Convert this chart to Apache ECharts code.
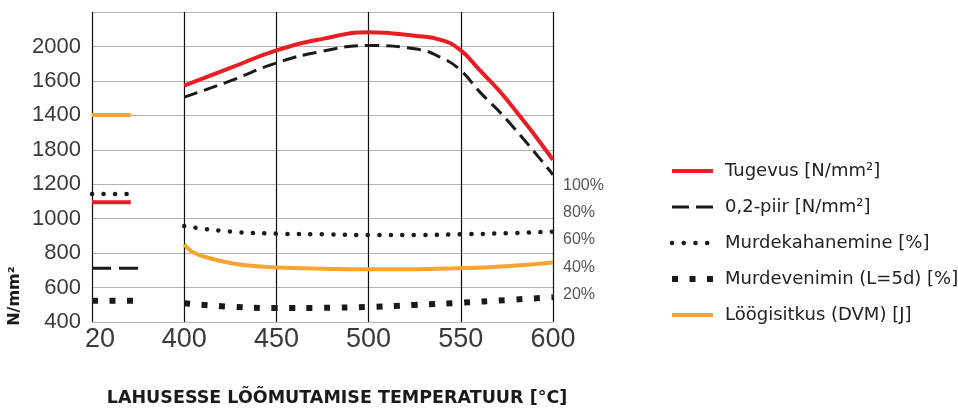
<!DOCTYPE html>
<html>
<head>
<meta charset="utf-8">
<script src="https://cdn.jsdelivr.net/npm/echarts@6/dist/echarts.min.js"></script>
<style>
html,body{margin:0;padding:0;background:#fff;}
#chart{width:958px;height:408px;}
</style>
</head>
<body>
<div id="chart"></div>
<script>
// ---- data ----
const xTickValues = [20, 400, 450, 500, 550, 600];
const yTickLabels = ['400', '600', '800', '1000', '1200', '1800', '1400', '1600', '2000', ''];
const pctTickLabels = ['20%', '40%', '60%', '80%', '100%'];
const seriesNames = ['Tugevus [N/mm²]', '0,2-piir [N/mm²]', 'Murdekahanemine [%]', 'Murdevenimin (L=5d) [%]', 'Löögisitkus (DVM) [J]'];

const curveTemps = [400, 425, 450, 475, 500, 525, 540, 550, 560, 575, 600];
const tugevus = [1772, 1875, 1977, 2044, 2082, 2062, 2035, 1977, 1865, 1691, 1342];
const piir02 = [1706, 1800, 1904, 1972, 2005, 1986, 1932, 1860, 1739, 1574, 1255];

const loogTemps = [400, 405, 414, 423, 432, 450, 475, 500, 525, 550, 575, 600];
const loogisitkus = [852, 803, 770, 747, 731, 716, 709, 706, 707, 712, 724, 745];

const pctTemps = [400, 425, 450, 475, 500, 525, 550, 575, 600];
const murdekahanemine = [70.3, 66.2, 64.7, 64.2, 63.7, 63.7, 64.2, 65.0, 66.2];
const murdevenimin = [13.7, 11.2, 10.2, 10.4, 11.0, 12.5, 14.1, 16.1, 18.1];

// values at 20 °C (drawn as short stubs)
const tugevus20 = 1096;
const piir20 = 712;
const loogisitkus20 = 1602;
const murdekahanemine20 = 93.8;
const murdevenimin20 = 15.6;

// ---- layout / style (not data) ----
const POS20 = 350;          // axis position standing for 20 °C (broken axis)
const stubEnd = {solid: 371, dashed: 376, dotted: 371.5, square: 372.5};
const RED = '#ec1c24', ORANGE = '#f7a531', BLACK = '#1a1a1a';

function zip(xs, ys) { return xs.map((x, i) => [x, ys[i]]); }
function stub(v, end) { return [[POS20, v], [end, v]]; }

const styles = [
  {color: RED, width: 4, type: 'solid', cap: 'butt'},
  {color: BLACK, width: 3, type: [14, 7], cap: 'butt'},
  {color: BLACK, width: 4.5, type: [0.1, 11.4], cap: 'round'},
  {color: BLACK, width: 6, type: [6, 11.5], cap: 'butt'},
  {color: ORANGE, width: 4, type: 'solid', cap: 'butt'}
];
const legendTypes = ['solid', [17, 7], [0.1, 11.6], [6, 11.5], 'solid'];

function lineSeries(i, data, yIdx, extra) {
  return Object.assign({
    type: 'line', name: seriesNames[i], data: data, yAxisIndex: yIdx,
    showSymbol: false, symbol: 'none', smooth: 0.5,
    lineStyle: Object.assign({}, styles[i]),
    itemStyle: {color: styles[i].color},
    emphasis: {disabled: true}, silent: true, animation: false
  }, extra || {});
}

const series = [
  lineSeries(0, zip(curveTemps, tugevus), 0, {z: 5}),
  lineSeries(1, zip(curveTemps, piir02), 0, {z: 4}),
  lineSeries(2, zip(pctTemps, murdekahanemine), 1),
  lineSeries(3, zip(pctTemps, murdevenimin), 1),
  lineSeries(4, zip(loogTemps, loogisitkus), 0, {smooth: 0.4}),
  // stubs at 20 °C
  lineSeries(0, stub(tugevus20, stubEnd.solid), 0, {smooth: false}),
  lineSeries(1, stub(piir20, stubEnd.dashed), 0, {smooth: false, lineStyle: Object.assign({}, styles[1], {type: [19, 8]})}),
  lineSeries(2, stub(murdekahanemine20, stubEnd.dotted), 1, {smooth: false}),
  lineSeries(3, stub(murdevenimin20, stubEnd.square), 1, {smooth: false}),
  lineSeries(4, stub(loogisitkus20, stubEnd.solid), 0, {smooth: false})
];

const chart = echarts.init(document.getElementById('chart'), null, {renderer: 'canvas'});
chart.setOption({
  animation: false,
  backgroundColor: '#fff',
  grid: {left: 92, right: 405, top: 12, bottom: 86, containLabel: false},
  xAxis: {
    type: 'value', min: POS20, max: 600, interval: 50,
    axisLine: {show: false}, axisTick: {show: false},
    splitLine: {show: true, lineStyle: {color: '#111', width: 1.2}},
    axisLabel: {
      fontFamily: 'Liberation Sans', fontSize: 27, color: '#3a3a3a', margin: 4,
      formatter: v => {
        const idx = v === POS20 ? 0 : xTickValues.indexOf(v);
        if (idx < 0) return '';
        return idx === 0 ? '{a|' + xTickValues[0] + '}' : String(xTickValues[idx]);
      },
      rich: {a: {fontFamily: 'Liberation Sans', fontSize: 27, color: '#3a3a3a', padding: [0, 0, 0, 16]}}
    }
  },
  yAxis: [{
    type: 'value', min: 400, max: 2200, interval: 200,
    axisLine: {show: false}, axisTick: {show: false},
    splitLine: {show: true, lineStyle: {color: '#b3b3b3', width: 1}},
    axisLabel: {
      fontFamily: 'Liberation Sans', fontSize: 22, color: '#3a3a3a', margin: 11,
      formatter: v => yTickLabels[Math.round((v - 400) / 200)] || ''
    }
  }, {
    type: 'value', min: 0, max: 227, interval: 20, position: 'right',
    axisLine: {show: false}, axisTick: {show: false}, splitLine: {show: false},
    axisLabel: {
      fontFamily: 'Liberation Sans', fontSize: 16, color: '#555', margin: 10,
      formatter: v => (v > 0 && v <= 100) ? pctTickLabels[v / 20 - 1] : ''
    }
  }],
  legend: {
    orient: 'vertical', left: 664, top: 157, padding: 5,
    itemWidth: 41, itemHeight: 14, itemGap: 18,
    data: seriesNames.map((n, i) => ({
      name: n,
      itemStyle: {opacity: 0},
      lineStyle: {color: styles[i].color, width: styles[i].width, type: legendTypes[i], cap: styles[i].cap, opacity: 1}
    })),
    selectedMode: false,
    textStyle: {fontFamily: 'DejaVu Sans', fontSize: 18, color: '#222', padding: [0, 0, 0, 7]}
  },
  graphic: [
    {type: 'text', x: 15, y: 296, rotation: Math.PI / 2,
     style: {text: 'N/mm²', fontFamily: 'DejaVu Sans', fontWeight: 'bold', fontSize: 16, fill: '#1a1a1a', align: 'center', verticalAlign: 'middle'}},
    {type: 'text', x: 337, y: 398,
     style: {text: 'LAHUSESSE LÕÕMUTAMISE TEMPERATUUR [°C]', fontFamily: 'DejaVu Sans', fontWeight: 'bold', fontSize: 17.5, fill: '#1a1a1a', align: 'center', verticalAlign: 'middle'}}
  ],
  series: series
});
</script>
</body>
</html>
